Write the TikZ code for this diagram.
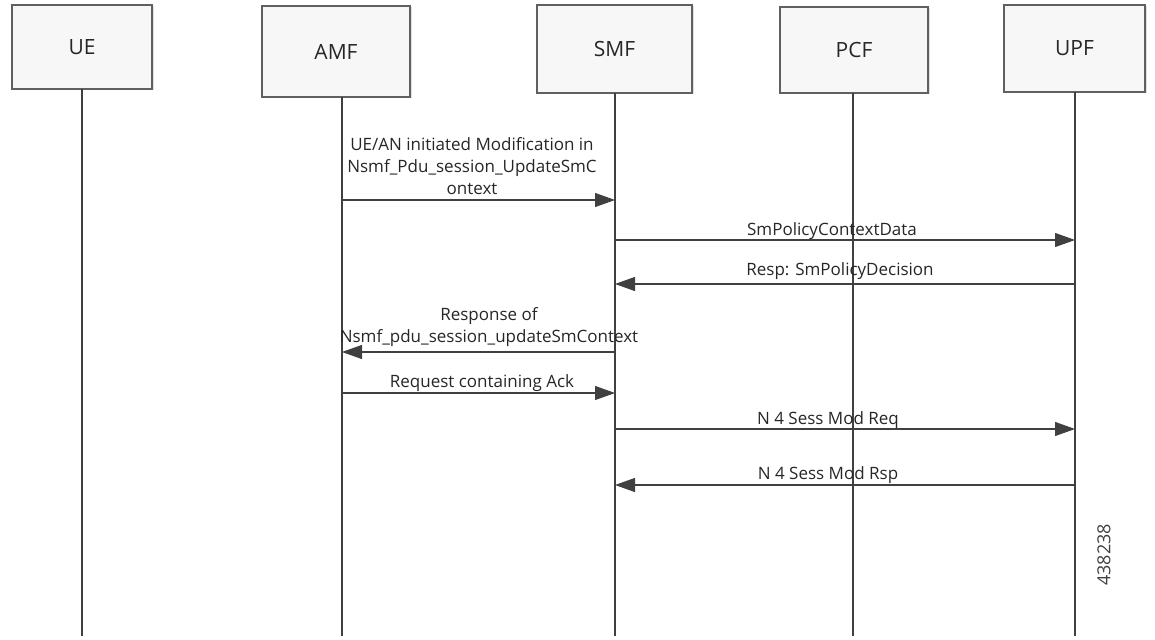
\documentclass[tikz,border=0pt]{standalone}
\usepackage{fontspec}
\setmainfont{Open Sans}
\usetikzlibrary{arrows.meta,shadows}
\definecolor{linec}{HTML}{404040}
\definecolor{boxfill}{HTML}{F7F7F7}
\definecolor{boxdraw}{HTML}{606060}
\tikzset{
  entity/.style={draw=boxdraw, line width=1.1pt, fill=boxfill, inner sep=0pt,
    drop shadow={opacity=0.25, shadow xshift=1.5pt, shadow yshift=-1.5pt},
    font=\fontsize{21}{24}\selectfont, text=black!85},
  lifeline/.style={draw=linec, line width=1.1pt},
  msg/.style={draw=linec, line width=1.1pt, -{Triangle[length=20pt,width=14pt]}},
  lbl/.style={font=\fontsize{17}{22}\selectfont, text=black!85, align=center, inner sep=0pt},
}
\begin{document}
\begin{tikzpicture}[x=1pt,y=-1pt]
\useasboundingbox (0,0) rectangle (1155,639);
% entities
\node[entity, minimum width=140pt, minimum height=84pt] (ue) at (82,47) {UE};
\node[entity, minimum width=148pt, minimum height=91pt] (amf) at (336,51.5) {AMF};
\node[entity, minimum width=155pt, minimum height=88pt] (smf) at (614.5,49) {SMF};
\node[entity, minimum width=148pt, minimum height=86pt] (pcf) at (854,50) {PCF};
\node[entity, minimum width=141pt, minimum height=87pt] (upf) at (1074.5,48.5) {UPF};
% lifelines
\coordinate (ueT) at (82,89);   \coordinate (ueB) at (82,636);
\coordinate (amfT) at (342,97); \coordinate (amfB) at (342,636);
\coordinate (smfT) at (615,93); \coordinate (smfB) at (615,636);
\coordinate (pcfT) at (853,93); \coordinate (pcfB) at (853,636);
\coordinate (upfT) at (1075,92); \coordinate (upfB) at (1075,636);
\foreach \e in {ue,amf,smf,pcf,upf} {\draw[lifeline] (\e T) -- (\e B);}
% message rows
\coordinate (y1) at (0,200);
\coordinate (y2) at (0,240);
\coordinate (y3) at (0,284);
\coordinate (y4) at (0,352);
\coordinate (y5) at (0,393);
\coordinate (y6) at (0,429);
\coordinate (y7) at (0,485);
\draw[msg] (amfT |- y1) -- (smfT |- y1);
\draw[msg] (smfT |- y2) -- (upfT |- y2);
\draw[msg] (upfT |- y3) -- (smfT |- y3);
\draw[msg] (smfT |- y4) -- (amfT |- y4);
\draw[msg] (amfT |- y5) -- (smfT |- y5);
\draw[msg] (smfT |- y6) -- (upfT |- y6);
\draw[msg] (upfT |- y7) -- (smfT |- y7);
% labels
\node[lbl, anchor=south] (l1) at (472,195) {UE/AN initiated Modification in\\Nsmf\_Pdu\_session\_UpdateSmC\\ontext};
\node[lbl, anchor=base] (l2) at (832,235) {SmPolicyContextData};
\node[lbl, anchor=base] (l3) at (840,275) {Resp: SmPolicyDecision};
\node[lbl, anchor=south] (l4) at (489,347) {Response of\\Nsmf\_pdu\_session\_updateSmContext};
\node[lbl, anchor=base] (l5) at (482,387) {Request containing Ack};
\node[lbl, anchor=base] (l6) at (828,424) {N 4 Sess Mod Req};
\node[lbl, anchor=base] (l7) at (828,479) {N 4 Sess Mod Rsp};
\node[font=\fontsize{18}{18}\selectfont, text=black!75, rotate=90, inner sep=0pt] (fig) at (1104,555) {438238};
\end{tikzpicture}
\end{document}
